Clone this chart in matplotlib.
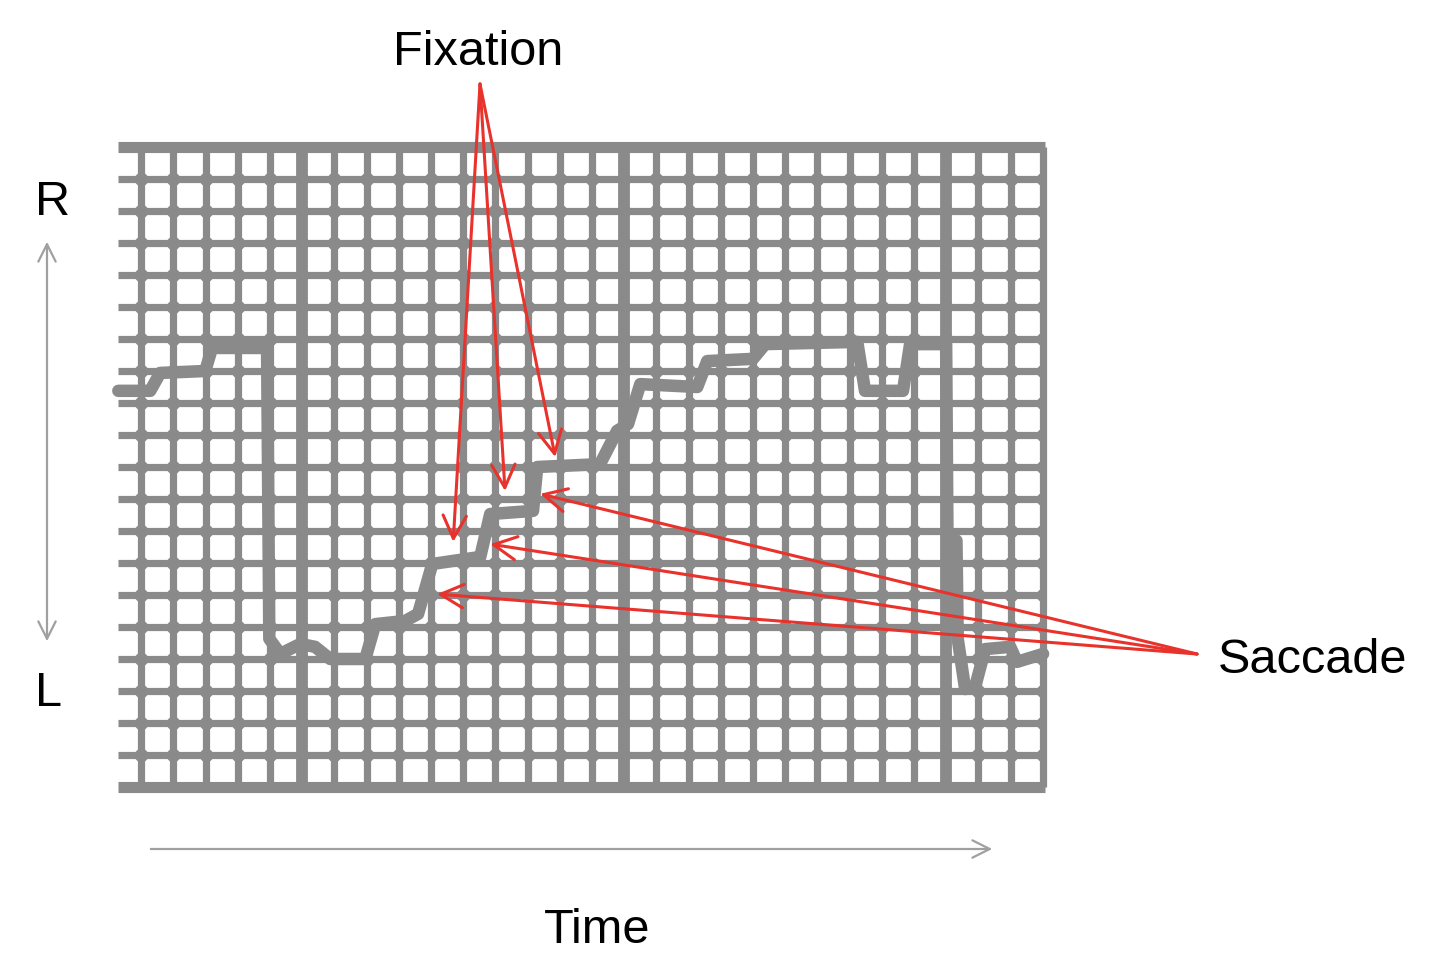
import numpy as np
import matplotlib
matplotlib.use("Agg")
import matplotlib.pyplot as plt

# ---- chart paper grid (units = chart divisions) ----
grid_x = list(range(-5, 24))          # thin vertical rulings
major_x = [0, 10, 20]                 # heavy vertical rulings
grid_y = list(range(0, 21))           # horizontal rulings
x_range = (-5.72, 23.07)
y_range = (0, 20)

# ---- eye-movement trace (time div, amplitude div) ----
trace_t = [-5.71, -4.72, -4.41, -3.01, -2.80, -1.09, -1.02, -0.68, -0.06, 0.40,
           0.87, 1.96, 2.27, 3.20, 3.60, 4.04, 5.53, 5.84, 7.17, 7.30,
           9.25, 9.78, 10.12, 10.50, 12.27, 12.58, 14.00, 14.38, 17.24, 17.48,
           18.66, 18.88, 20.00, 20.04, 20.32, 20.36, 20.59, 20.90, 21.21, 21.99,
           22.20, 23.01]
trace_v = [12.38, 12.38, 12.94, 13.00, 13.72, 13.72, 4.63, 4.16, 4.47, 4.38,
           4.00, 4.00, 5.09, 5.19, 5.41, 6.97, 7.19, 8.53, 8.63, 10.00,
           10.09, 11.13, 11.34, 12.59, 12.50, 13.31, 13.38, 13.84, 13.91, 12.38,
           12.38, 13.84, 13.84, 7.90, 7.70, 4.63, 3.06, 3.13, 4.31, 4.38,
           3.91, 4.16]

# ---- annotation targets on the trace ----
fixation_t = [4.69, 6.30, 7.86]
fixation_v = [7.66, 9.25, 10.31]
saccade_t = [4.19, 5.84, 7.39]
saccade_v = [6.03, 7.59, 9.16]

GREY = "#8a8a8a"
RED = "#e8322b"
FONT = ["Liberation Sans", "DejaVu Sans"]

W, H = 1440, 970
fig = plt.figure(figsize=(W / 100, H / 100), dpi=100)
fig.patch.set_facecolor("white")
ax = fig.add_axes([118 / W, (H - 788) / H, (1045 - 118) / W, (788 - 148) / H])
ax.set_xlim(*x_range)
ax.set_ylim(*y_range)
ax.axis("off")

# thin rulings
for gx in grid_x:
    ax.plot([gx, gx], list(y_range), color=GREY, lw=5.2, solid_capstyle="butt",
            clip_on=False, zorder=1)
for gy in grid_y:
    lw = 8.0 if gy in (y_range[0], y_range[1]) else 5.2
    ax.plot(list(x_range), [gy, gy], color=GREY, lw=lw, solid_capstyle="butt",
            clip_on=False, zorder=1)
# heavy rulings
for mx in major_x:
    ax.plot([mx, mx], list(y_range), color=GREY, lw=8.5, solid_capstyle="butt",
            clip_on=False, zorder=1)
# rounded blobs at intersections (scanned look)
gxx, gyy = np.meshgrid(grid_x, grid_y[1:-1])
ax.scatter(gxx.ravel(), gyy.ravel(), s=95, marker="o", color=GREY,
           linewidths=0, zorder=1)

# trace
ax.plot(trace_t, trace_v, color=GREY, lw=9, solid_joinstyle="round",
        solid_capstyle="round", zorder=2, clip_on=False)

# ---- red annotation arrows ----
arrow_style = "->,head_length=0.55,head_width=0.28"
for t, v in zip(fixation_t, fixation_v):
    ax.annotate("", xy=(t, v), xycoords="data",
                xytext=(480, H - 85), textcoords="figure pixels",
                arrowprops=dict(arrowstyle=arrow_style, color=RED, lw=2.2,
                                mutation_scale=30, shrinkA=0, shrinkB=0),
                zorder=5, annotation_clip=False)
for t, v in zip(saccade_t, saccade_v):
    ax.annotate("", xy=(t, v), xycoords="data",
                xytext=(1197, H - 655), textcoords="figure pixels",
                arrowprops=dict(arrowstyle=arrow_style, color=RED, lw=2.2,
                                mutation_scale=30, shrinkA=0, shrinkB=0),
                zorder=5, annotation_clip=False)

# ---- labels ----
fig.text(478 / W, (H - 65) / H, "Fixation", ha="center", va="baseline",
         fontsize=35, family=FONT, color="black")
fig.text(1218 / W, (H - 673) / H, "Saccade", ha="left", va="baseline",
         fontsize=35, family=FONT, color="black")
fig.text(597 / W, (H - 943) / H, "Time", ha="center", va="baseline",
         fontsize=35, family=FONT, color="black")
fig.text(53 / W, (H - 215) / H, "R", ha="center", va="baseline",
         fontsize=35, family=FONT, color="black")
fig.text(49 / W, (H - 706) / H, "L", ha="center", va="baseline",
         fontsize=35, family=FONT, color="black")

# ---- axis direction arrows ----
ax_arrow = "<->,head_length=0.5,head_width=0.25"
fig.add_artist(matplotlib.patches.FancyArrowPatch(
    (47 / W, (H - 645) / H), (47 / W, (H - 240) / H), transform=fig.transFigure,
    arrowstyle=ax_arrow, mutation_scale=25, color="#a0a0a0", lw=1.6))
fig.add_artist(matplotlib.patches.FancyArrowPatch(
    (148 / W, (H - 850) / H), (995 / W, (H - 850) / H), transform=fig.transFigure,
    arrowstyle="->,head_length=0.5,head_width=0.25", mutation_scale=25,
    color="#a0a0a0", lw=1.6))

fig.savefig("out.png", dpi=100, facecolor="white")
